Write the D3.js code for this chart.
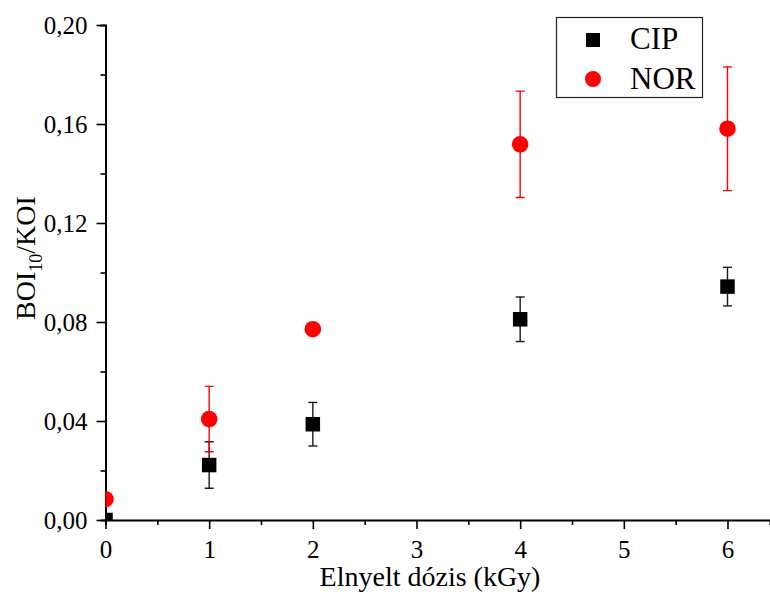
<!DOCTYPE html>
<html>
<head>
<meta charset="utf-8">
<script src="https://cdn.jsdelivr.net/npm/d3@7/dist/d3.min.js"></script>
<style>
  html, body { margin: 0; padding: 0; background: #fff; }
  svg text { font-family: "Liberation Serif", "Times New Roman", serif; fill: #000; }
</style>
</head>
<body>
<svg id="chart" width="770" height="592"></svg>
<script>
// Absorbed dose (kGy) and BOI10/KOI ratio with standard deviations
const dose = [0, 1, 2, 4, 6];
const cipValues = [0.000, 0.0222, 0.0387, 0.0811, 0.0943];
const cipErrors = [0.000, 0.0094, 0.0088, 0.0090, 0.0078];
const norValues = [0.0084, 0.0408, 0.0771, 0.1518, 0.1581];
const norErrors = [0.000, 0.0132, 0.0000, 0.0215, 0.0250];
const xTicks = [0, 1, 2, 3, 4, 5, 6];
const yTicks = [0.00, 0.04, 0.08, 0.12, 0.16, 0.20];
const seriesNames = ["CIP", "NOR"];

const serif = '"Liberation Serif", "Times New Roman", serif';
const svg = d3.select("#chart");
const plotLeft = 105.5, plotRight = 770, plotTop = 25, plotBottom = 520;

const x = d3.scaleLinear().domain([0, 6.41]).range([plotLeft, plotRight]);
const y = d3.scaleLinear().domain([0, 0.20]).range([plotBottom, plotTop]);

const fmt = d3.format(".2f");
const comma = v => fmt(v).replace(".", ",");

// clip region for the data marks
svg.append("defs").append("clipPath").attr("id", "plot-clip")
  .append("rect")
  .attr("x", plotLeft).attr("y", plotTop - 20)
  .attr("width", plotRight - plotLeft).attr("height", plotBottom - plotTop + 20);

// x axis: minor ticks, then labelled major ticks
const xAxisG = svg.append("g").attr("transform", `translate(0,${plotBottom})`);
xAxisG.call(d3.axisBottom(x).tickValues(d3.range(0.5, 6.5, 1)).tickSize(5).tickFormat(""));
const xMajor = xAxisG.append("g")
  .call(d3.axisBottom(x).tickValues(xTicks).tickSize(9).tickPadding(11).tickFormat(d3.format("d")));
xMajor.select(".domain").remove();

// y axis: minor ticks, then labelled major ticks
const yAxisG = svg.append("g").attr("transform", `translate(${plotLeft},0)`);
yAxisG.call(d3.axisLeft(y).tickValues(d3.range(0.02, 0.2, 0.04)).tickSize(5).tickFormat(""));
const yMajor = yAxisG.append("g")
  .call(d3.axisLeft(y).tickValues(yTicks).tickSize(9).tickPadding(9).tickFormat(comma));
yMajor.select(".domain").remove();

[xAxisG, xMajor, yAxisG, yMajor].forEach(g => g.attr("font-family", serif).attr("font-size", 25));
svg.selectAll(".domain").attr("stroke", "#000").attr("stroke-width", 2);
svg.selectAll(".tick line").attr("stroke", "#000").attr("stroke-width", 1.6);
svg.selectAll(".tick text").attr("fill", "#000");

// axis titles
svg.append("text")
  .attr("x", 430).attr("y", 586)
  .attr("text-anchor", "middle")
  .attr("font-family", serif)
  .attr("font-size", 28)
  .text("Elnyelt dózis (kGy)");

const yTitle = svg.append("text")
  .attr("transform", "translate(35,258) rotate(-90)")
  .attr("text-anchor", "middle")
  .attr("font-family", serif)
  .attr("font-size", 28);
yTitle.append("tspan").text("BOI");
yTitle.append("tspan").attr("dy", 7).attr("font-size", 18).text("10");
yTitle.append("tspan").attr("dy", -7).text("/KOI");

// data marks
const plot = svg.append("g").attr("clip-path", "url(#plot-clip)");

function drawErrors(vals, errs, color) {
  const cap = 4.5;
  const g = plot.append("g").attr("stroke", color).attr("stroke-width", 1.4);
  dose.forEach((d, i) => {
    if (errs[i] <= 0) return;
    const cx = x(d), y1 = y(vals[i] + errs[i]), y2 = y(vals[i] - errs[i]);
    g.append("line").attr("x1", cx).attr("x2", cx).attr("y1", y1).attr("y2", y2);
    g.append("line").attr("x1", cx - cap).attr("x2", cx + cap).attr("y1", y1).attr("y2", y1);
    g.append("line").attr("x1", cx - cap).attr("x2", cx + cap).attr("y1", y2).attr("y2", y2);
  });
}

drawErrors(cipValues, cipErrors, "#1a1a1a");
const sq = 14.5;
plot.append("g").selectAll("rect")
  .data(dose.map((d, i) => [d, cipValues[i]]))
  .join("rect")
  .attr("x", d => x(d[0]) - sq / 2)
  .attr("y", d => y(d[1]) - sq / 2)
  .attr("width", sq).attr("height", sq)
  .attr("fill", "#000");

drawErrors(norValues, norErrors, "#ff0000");
plot.append("g").selectAll("circle")
  .data(dose.map((d, i) => [d, norValues[i]]))
  .join("circle")
  .attr("cx", d => x(d[0]))
  .attr("cy", d => y(d[1]))
  .attr("r", 8.3)
  .attr("fill", "#ff0000");

// legend
const lg = svg.append("g");
lg.append("rect")
  .attr("x", 556.5).attr("y", 17.5).attr("width", 146).attr("height", 80)
  .attr("fill", "#fff").attr("stroke", "#222").attr("stroke-width", 1.2);
lg.append("rect").attr("x", 593 - 7).attr("y", 40 - 7).attr("width", 14).attr("height", 14).attr("fill", "#000");
lg.append("circle").attr("cx", 593).attr("cy", 79).attr("r", 8).attr("fill", "#ff0000");
lg.selectAll("text.lbl")
  .data(seriesNames)
  .join("text")
  .attr("class", "lbl")
  .attr("x", 630)
  .attr("y", (d, i) => 49 + i * 40)
  .attr("font-family", serif)
  .attr("font-size", 31)
  .text(d => d);
</script>
</body>
</html>
